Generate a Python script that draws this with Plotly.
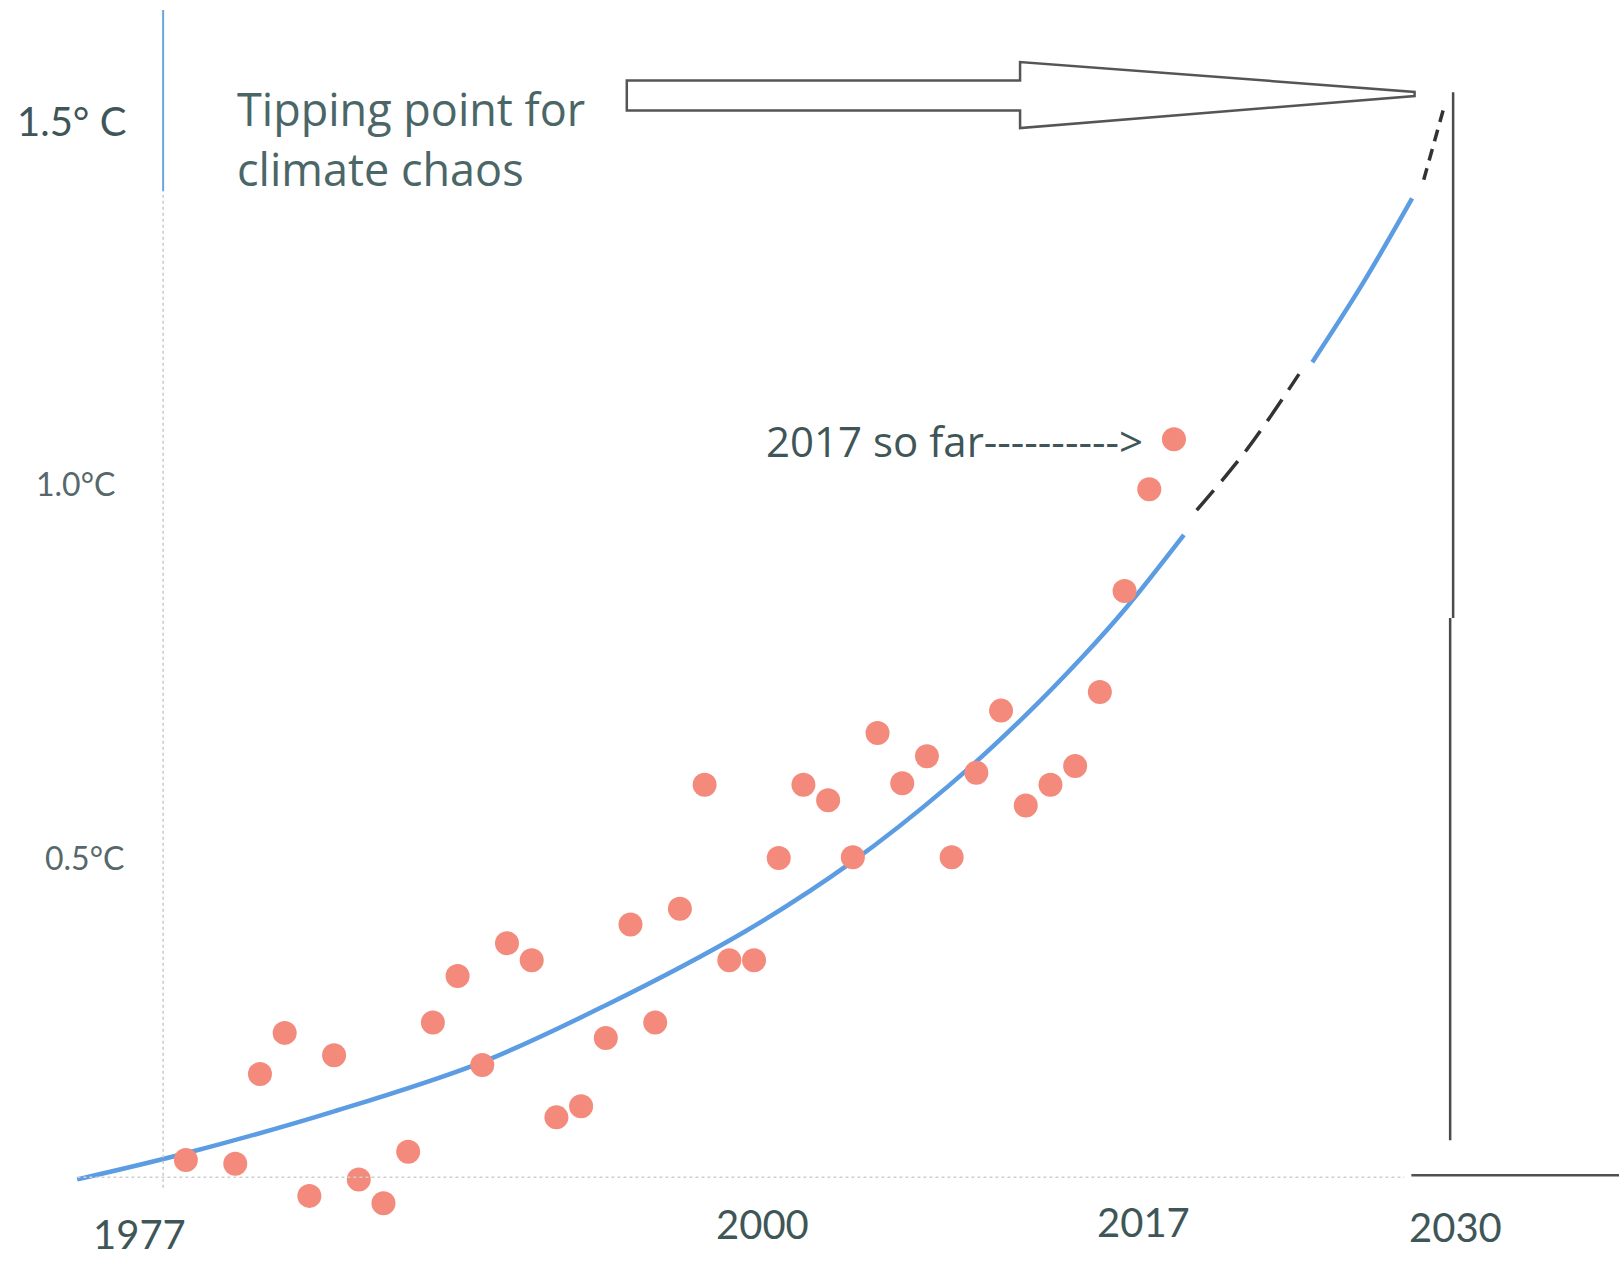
import plotly.graph_objects as go

# ---------------- data ----------------
years = [1977, 1979, 1980, 1981, 1982, 1983, 1984, 1985, 1986, 1987, 1988, 1989,
         1990, 1991, 1992, 1993, 1994, 1995, 1996, 1997, 1998, 1999, 2000, 2001,
         2002, 2003, 2004, 2005, 2006, 2007, 2008, 2009, 2010, 2011, 2012, 2013,
         2014, 2015, 2016, 2017]
anomaly = [0.095, 0.090, 0.210, 0.265, 0.047, 0.235, 0.069, 0.037, 0.106, 0.279,
           0.341, 0.222, 0.385, 0.362, 0.152, 0.167, 0.258, 0.410, 0.279, 0.431,
           0.597, 0.362, 0.362, 0.499, 0.597, 0.576, 0.500, 0.666, 0.599, 0.635,
           0.500, 0.613, 0.696, 0.569, 0.597, 0.622, 0.721, 0.856, 0.992, 1.059]

# exponential trend line as drawn
trend_years = [1972.6, 1977.0, 1983.0, 1989.0, 1994.0, 1999.6, 2003.9,
               2007.9, 2011.0, 2013.3, 2015.1, 2017.4]
trend_vals = [0.069, 0.104, 0.160, 0.226, 0.302, 0.400, 0.492,
              0.596, 0.690, 0.768, 0.835, 0.931]
trend2_years = [2022.6, 2024.6, 2026.64]
trend2_vals = [1.162, 1.265, 1.381]

# hand-drawn dashed projection pieces
proj1_years = [2017.92, 2019.97, 2022.06]
proj1_vals = [0.964, 1.046, 1.146]
proj2_years = [2027.11, 2027.93]
proj2_vals = [1.406, 1.503]

x_labels = ["1977", "2000", "2017", "2030"]
y_labels = ["1.0°C", "0.5°C"]
y_label_vals = [1.0, 0.5]

# ---------------- layout constants ----------------
W, H = 1619, 1261
XR = [1969.4765, 2035.015]
YR = [-0.0401, 1.6464]

TEXT = "#3f5658"
FONT = "'Open Sans', Calibri, Lato, sans-serif"
NUMFONT = "Lato, Calibri, sans-serif"

def px_x(xd):   # reference pixel (1568-wide view) -> paper
    return xd / 1568.0

def px_y(yd):
    return 1 - yd / 1221.0

fig = go.Figure()

fig.add_trace(go.Scatter(x=trend_years, y=trend_vals, mode="lines",
                         line=dict(color="#5b9ce3", width=4.5, shape="spline", smoothing=1.0),
                         hoverinfo="skip", showlegend=False))
fig.add_trace(go.Scatter(x=trend2_years, y=trend2_vals, mode="lines",
                         line=dict(color="#5b9ce3", width=4.5, shape="spline"),
                         hoverinfo="skip", showlegend=False))
fig.add_trace(go.Scatter(x=proj1_years, y=proj1_vals, mode="lines",
                         line=dict(color="#333333", width=3.5, dash="26px,12px", shape="spline"),
                         hoverinfo="skip", showlegend=False))
fig.add_trace(go.Scatter(x=proj2_years, y=proj2_vals, mode="lines",
                         line=dict(color="#333333", width=3.5, dash="12px,8px"),
                         hoverinfo="skip", showlegend=False))
fig.add_trace(go.Scatter(x=years, y=anomaly, mode="markers",
                         marker=dict(color="#f38a7c", size=24, line=dict(width=0)),
                         showlegend=False))

shapes = []
# y axis: blue top segment + faint dotted gray segment
shapes.append(dict(type="line", xref="x", yref="y", x0=1976.08, x1=1976.08,
                   y0=1.391, y1=1.633, line=dict(color="#6aa6dc", width=2)))
shapes.append(dict(type="line", xref="x", yref="y", x0=1976.08, x1=1976.08,
                   y0=0.058, y1=1.391, line=dict(color="#c9c9c9", width=1.5, dash="dot")))
# x axis faint dotted line
shapes.append(dict(type="line", xref="x", yref="y", x0=1972.61, x1=2026.32,
                   y0=0.0718, y1=0.0718, line=dict(color="#cfcfcf", width=1.5, dash="dot")))
# dark horizontal line at bottom right
shapes.append(dict(type="line", xref="x", yref="y", x0=2026.61, x1=2035.1,
                   y0=0.0746, y1=0.0746, line=dict(color="#505050", width=2.5)))
# vertical line (2030 marker)
shapes.append(dict(type="line", xref="x", yref="y", x0=2028.30, x1=2028.30,
                   y0=0.82, y1=1.523, line=dict(color="#4a4a4a", width=2.5)))
shapes.append(dict(type="line", xref="x", yref="y", x0=2028.18, x1=2028.18,
                   y0=0.1215, y1=0.82, line=dict(color="#4a4a4a", width=2.5)))
# big outlined arrow pointing to the tipping point
arrow_pts = [(1994.85, 1.5387), (2010.77, 1.5387), (2010.77, 1.5635),
             (2026.74, 1.5235), (2026.74, 1.5180), (2010.77, 1.4751),
             (2010.77, 1.4986), (1994.85, 1.4986)]
path = "M " + " L ".join(f"{x},{y}" for x, y in arrow_pts) + " Z"
shapes.append(dict(type="path", xref="x", yref="y", path=path,
                   line=dict(color="#555555", width=2.5), fillcolor="white"))

annotations = []
annotations.append(dict(text="1.5° C", x=px_x(15), y=px_y(117), xref="paper", yref="paper",
                        xanchor="left", yanchor="middle", showarrow=False,
                        font=dict(family=NUMFONT, size=40, color=TEXT)))
annotations.append(dict(text="Tipping point for", x=px_x(228), y=px_y(105), xref="paper", yref="paper",
                        xanchor="left", yanchor="middle", showarrow=False,
                        font=dict(family=FONT, size=45, color="#4b6667")))
annotations.append(dict(text="climate chaos", x=px_x(228), y=px_y(163), xref="paper", yref="paper",
                        xanchor="left", yanchor="middle", showarrow=False,
                        font=dict(family=FONT, size=45, color="#4b6667")))
annotations.append(dict(text="2017 so far---------->", x=px_x(740), y=px_y(427), xref="paper", yref="paper",
                        xanchor="left", yanchor="middle", showarrow=False,
                        font=dict(family=FONT, size=42, color=TEXT)))
xlab_pos = [(135, 1195), (738, 1185), (1107, 1183), (1410, 1188)]
for lab, (xd, yd) in zip(x_labels, xlab_pos):
    annotations.append(dict(text=lab, x=px_x(xd), y=px_y(yd), xref="paper", yref="paper",
                            xanchor="center", yanchor="middle", showarrow=False,
                            font=dict(family=NUMFONT, size=40, color=TEXT)))
ylab_right = [113, 122]
for lab, v, xr in zip(y_labels, y_label_vals, ylab_right):
    annotations.append(dict(text=lab, x=px_x(xr), y=v, xref="paper", yref="y",
                            xanchor="right", yanchor="middle", showarrow=False,
                            font=dict(family=NUMFONT, size=32, color="#56686a")))

fig.update_layout(
    width=W, height=H,
    margin=dict(l=0, r=0, t=0, b=0),
    paper_bgcolor="white", plot_bgcolor="white",
    xaxis=dict(range=XR, visible=False, showgrid=False, zeroline=False),
    yaxis=dict(range=YR, visible=False, showgrid=False, zeroline=False),
    shapes=shapes, annotations=annotations,
    showlegend=False,
)

fig.write_html("out.html", config={"displayModeBar": False})

# remove the default page margin so the figure sits at the window's corner
with open("out.html", "r", encoding="utf-8") as f:
    html = f.read()
html = html.replace("<head>", "<head><style>html,body{margin:0;padding:0;overflow:hidden;}</style>", 1)
with open("out.html", "w", encoding="utf-8") as f:
    f.write(html)
